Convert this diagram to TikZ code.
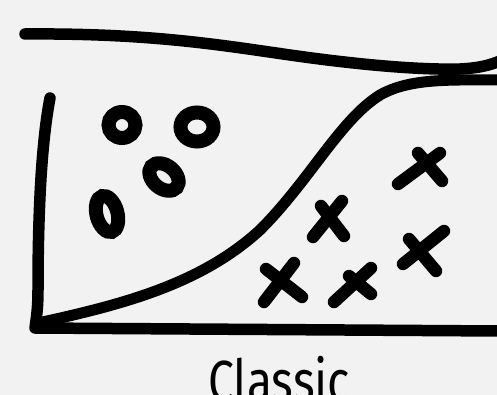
\documentclass[tikz,border=0pt]{standalone}
\usepackage{fontspec}
\setmainfont{Fira Sans}
\definecolor{bg}{HTML}{F2F2F2}
\tikzset{
  ink/.style={draw=black, line width=11.5pt, line cap=round, line join=round},
  blob/.style={draw=black, line width=14pt},
  crossstroke/.style={draw=black, line width=12.5pt, line cap=round},
}
\begin{document}
\begin{tikzpicture}[x=1pt,y=-1pt]
\useasboundingbox (0,0) rectangle (497,395);
\clip (0,0) rectangle (497,395);
\fill[bg] (0,0) rectangle (497,395);
% top curve
\draw[ink] (25,34) .. controls (150,33) and (220,45) .. (290,55)
  .. controls (360,65) and (420,70) .. (460,69)
  .. controls (480,68) and (490,65) .. (500,61);
% axes
\draw[ink] (50,98) .. controls (40,150) and (38,230) .. (38,290)
  .. controls (38,310) and (36,320) .. (35,328) -- (500,331);
% S curve
\draw[ink, line width=11pt] (38,323) .. controls (120,305) and (200,285) .. (260,230)
  .. controls (310,180) and (340,120) .. (380,95)
  .. controls (410,78) and (450,80) .. (500,80);
% O's
\draw[blob] (122,125) ellipse [x radius=13.5, y radius=13];
\draw[blob] (197,127) ellipse [x radius=16.5, y radius=14.5];
\draw[blob, rotate around={-40:(164,177)}] (164,177) ellipse [x radius=16.5, y radius=11.5];
\draw[blob, rotate around={-75:(107,214)}] (107,214) ellipse [x radius=18.5, y radius=10.5];
% X's
\draw[crossstroke] (398,184) -- (440,153);
\draw[crossstroke] (418,153) -- (442,181);
\draw[crossstroke] (313,237) -- (342,201);
\draw[crossstroke] (321,206) -- (344,236);
\draw[crossstroke] (403,264) -- (444,231);
\draw[crossstroke] (409,239) -- (436,271);
\draw[crossstroke] (264,302) -- (294,263);
\draw[crossstroke] (266,269) -- (302,297);
\draw[crossstroke] (334,302) -- (371,268);
\draw[crossstroke] (349,276) -- (371,294);
% label
\node[anchor=base west, inner sep=0pt, xscale=0.8, font=\fontsize{58}{60}\selectfont] (lbl) at (208,401) {Classic};
\end{tikzpicture}
\end{document}
